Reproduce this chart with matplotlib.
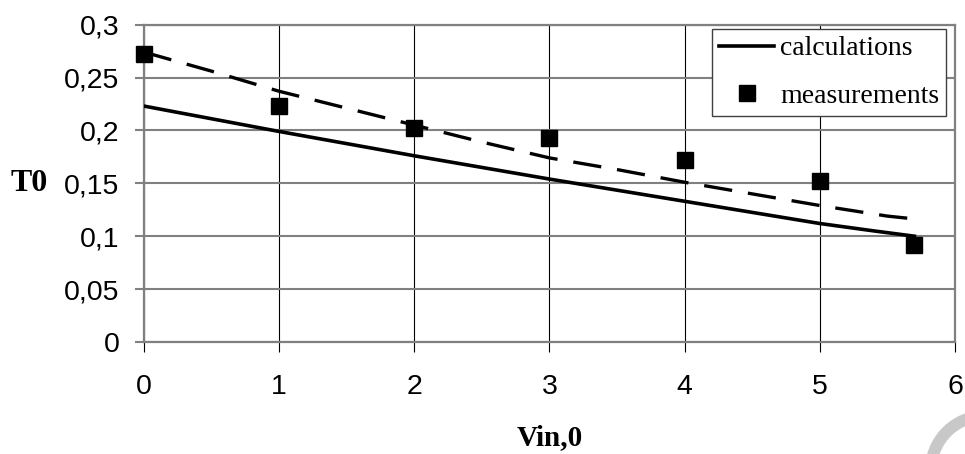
import matplotlib
matplotlib.use('Agg')
from matplotlib import pyplot as plt
from matplotlib.patches import Arc

# measured points
vin_meas = [0, 1, 2, 3, 4, 5, 5.7]
t0_meas = [0.272, 0.223, 0.202, 0.193, 0.172, 0.152, 0.092]

# calculated curve
vin_calc = [0, 1, 2, 3, 4, 5, 5.4, 5.7]
t0_calc = [0.223, 0.199, 0.176, 0.154, 0.133, 0.112, 0.105, 0.100]

# trend through the measurements (dashed)
vin_trend = [0, 0.5, 1, 1.5, 2, 2.5, 3, 3.5, 4, 4.5, 5, 5.5, 5.65]
t0_trend = [0.274, 0.256, 0.237, 0.221, 0.205, 0.189, 0.174, 0.163,
            0.151, 0.140, 0.129, 0.119, 0.117]

x_ticks = [0, 1, 2, 3, 4, 5, 6]
y_ticks = [0, 0.05, 0.1, 0.15, 0.2, 0.25, 0.3]
y_tick_labels = ['0', '0,05', '0,1', '0,15', '0,2', '0,25', '0,3']

sans = 'Liberation Sans'
serif = 'Liberation Serif'
frame_grey = '#808080'

fig = plt.figure(figsize=(9.65, 4.54), dpi=100)
ax = fig.add_axes([0.1492, 0.2467, 0.8404, 0.6991])

ax.set_xlim(0, 6)
ax.set_ylim(0, 0.3)
ax.set_xticks(x_ticks)
ax.set_xticklabels([str(v) for v in x_ticks], family=sans, fontsize=20.5)
ax.set_yticks(y_ticks)
ax.set_yticklabels(y_tick_labels, family=sans, fontsize=20.5)

# grid: thin black verticals, grey horizontals
ax.grid(axis='x', color='black', linewidth=0.8, zorder=0)
ax.grid(axis='y', color=frame_grey, linewidth=1.5, zorder=0)
ax.set_axisbelow(True)

for side in ('left', 'right', 'top', 'bottom'):
    ax.spines[side].set_color(frame_grey)
    ax.spines[side].set_linewidth(1.6)

ax.tick_params(axis='x', direction='out', length=7, width=0.8,
               color='black', pad=16)
ax.tick_params(axis='y', direction='out', length=6.5, width=1.5,
               color=frame_grey, pad=11)

ax.plot(vin_trend, t0_trend, color='black', linewidth=2.4,
        linestyle=(0, (8.5, 4.8)), zorder=3)
ax.plot(vin_calc, t0_calc, color='black', linewidth=2.6,
        label='calculations', zorder=4)
ax.plot(vin_meas, t0_meas, linestyle='none', marker='s', markersize=11.3,
        color='black', label='measurements', zorder=5, clip_on=False)

ax.set_xlabel('Vin,0', family=serif, fontweight='bold', fontsize=21,
              labelpad=17)
ax.set_ylabel('T0', family=serif, fontweight='bold', fontsize=23,
              rotation=0, ha='right', va='center')
ax.yaxis.set_label_coords(-0.118, 0.5)

leg = ax.legend(loc='upper right', bbox_to_anchor=(0.989, 0.986),
                borderaxespad=0, fancybox=False, framealpha=1,
                edgecolor='#404040', prop={'family': serif, 'size': 20},
                handlelength=2.0, handletextpad=0.2, borderpad=0.25,
                labelspacing=0.8, markerscale=1.0)
leg.get_frame().set_linewidth(1.0)

# faint ring in the lower right corner
ring = Arc((985 / 965, -16 / 454), 108 / 965, 108 / 454,
           theta1=90, theta2=200, transform=fig.transFigure,
           color='#c8c8c8', linewidth=8.6, clip_on=False)
fig.add_artist(ring)

fig.savefig('out.png', dpi=100)
